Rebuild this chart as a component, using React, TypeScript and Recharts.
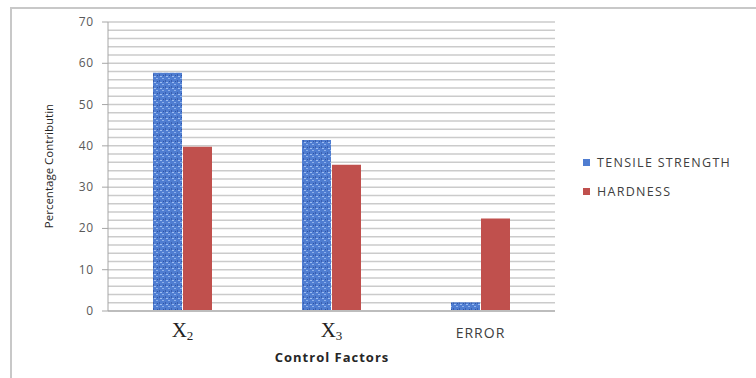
import { BarChart, Bar, XAxis, YAxis, CartesianGrid, Legend } from "recharts";

const factors = ["X2", "X3", "ERROR"];
const tensileStrength = [57.7, 41.4, 2.1];
const hardness = [39.8, 35.4, 22.4];
const yTicks = [0, 2, 4, 6, 8, 10, 12, 14, 16, 18, 20, 22, 24, 26, 28, 30, 32, 34, 36, 38, 40, 42, 44, 46, 48, 50, 52, 54, 56, 58, 60, 62, 64, 66, 68, 70];

const data = factors.map((f, i) => ({
  name: f,
  tensile: tensileStrength[i],
  hardness: hardness[i],
}));

const BLUE = "#4f7dd1";
const RED = "#c0504d";
const SANS = "'Open Sans', 'Liberation Sans', sans-serif";

function YTick(props: any) {
  const { x, y, payload } = props;
  if (payload.value % 10 !== 0) return null;
  return (
    <g>
      <line x1={x + 2} x2={x + 8} y1={y} y2={y} stroke="#a6a6a6" />
      <text x={x - 6} y={y + 4} textAnchor="end" fontSize={12} letterSpacing={0.8} fill="#595959" fontFamily={SANS}>
        {payload.value}
      </text>
    </g>
  );
}

function XTick(props: any) {
  const { x, y, payload } = props;
  const v: string = payload.value;
  if (v.startsWith("X")) {
    return (
      <text x={x} y={y + 18} textAnchor="middle" fill="#222" fontFamily="'Liberation Serif', 'DejaVu Serif', serif">
        <tspan fontSize={21}>X</tspan>
        <tspan fontSize={13} dy={3}>{v.slice(1)}</tspan>
      </text>
    );
  }
  return (
    <text x={x} y={y + 19} textAnchor="middle" fontSize={14} letterSpacing={1} fill="#404040" fontFamily={SANS}>
      {v}
    </text>
  );
}

function LegendBox() {
  const items = [
    { label: "TENSILE STRENGTH", color: BLUE },
    { label: "HARDNESS", color: RED },
  ];
  return (
    <div style={{ fontFamily: SANS, fontSize: 12.5, color: "#404040", letterSpacing: 1.3 }}>
      {items.map((it) => (
        <div key={it.label} style={{ display: "flex", alignItems: "center", height: 29 }}>
          <span style={{ display: "inline-block", width: 7, height: 7, background: it.color, marginRight: 7 }} />
          {it.label}
        </div>
      ))}
    </div>
  );
}

export default function App() {
  return (
    <div style={{ position: "relative", width: 756, height: 378, overflow: "hidden", background: "#fff" }}>
      <style>{"body{margin:0}"}</style>
      <div
        style={{
          position: "absolute",
          left: 10,
          top: 7,
          width: 760,
          height: 380,
          border: "2px solid #c8c8c8",
        }}
      />
      <BarChart
        width={756}
        height={378}
        data={data}
        margin={{ top: 22, right: 31, bottom: 37, left: 60 }}
        barSize={29}
        barGap={1}
      >
        <defs>
          <pattern id="tex" width="6" height="6" patternUnits="userSpaceOnUse">
            <rect width="6" height="6" fill={BLUE} />
            <rect x="0" y="0" width="2" height="1" fill="#8fb2ec" />
            <rect x="3" y="2" width="1" height="2" fill="#3a5fb0" />
            <rect x="4" y="4" width="2" height="1" fill="#9dbcf0" />
            <rect x="1" y="3" width="1" height="1" fill="#2f54a4" />
          </pattern>
        </defs>
        <CartesianGrid vertical={false} stroke="#cbcbcb" strokeWidth={1.5} />
        <XAxis
          dataKey="name"
          tick={<XTick />}
          tickLine={false}
          axisLine={{ stroke: "#bdbdbd", strokeWidth: 2 }}
          height={30}
          interval={0}
        />
        <YAxis
          domain={[0, 70]}
          ticks={yTicks}
          interval={0}
          tick={<YTick />}
          tickLine={false}
          axisLine={{ stroke: "#a6a6a6" }}
          width={48}
        />
        <Legend
          layout="vertical"
          align="right"
          verticalAlign="top"
          content={<LegendBox />}
          wrapperStyle={{ left: 583, top: 148, width: 170 }}
        />
        <Bar dataKey="tensile" name="TENSILE STRENGTH" fill="url(#tex)" isAnimationActive={false} />
        <Bar dataKey="hardness" name="HARDNESS" fill={RED} isAnimationActive={false} />
      </BarChart>
      <div
        style={{
          position: "absolute",
          left: 48,
          top: 166,
          transform: "translate(-50%, -50%) rotate(-90deg)",
          whiteSpace: "nowrap",
          fontFamily: SANS,
          fontSize: 11.5,
          color: "#262626",
        }}
      >
        Percentage Contributin
      </div>
      <div
        style={{
          position: "absolute",
          left: 332,
          top: 357,
          transform: "translate(-50%, -50%)",
          whiteSpace: "nowrap",
          fontFamily: SANS,
          fontSize: 13,
          letterSpacing: 1,
          fontWeight: 700,
          color: "#262626",
        }}
      >
        Control Factors
      </div>
    </div>
  );
}
